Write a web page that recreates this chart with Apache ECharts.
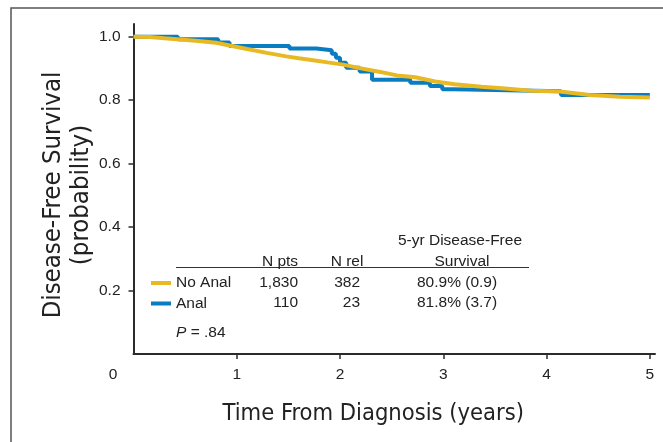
<!DOCTYPE html>
<html>
<head>
<meta charset="utf-8">
<script src="https://cdn.jsdelivr.net/npm/echarts@6/dist/echarts.min.js"></script>
<style>
html,body{margin:0;padding:0;background:#fff;}
#chart{width:663px;height:442px;}
</style>
</head>
<body>
<div id="chart"></div>
<script>
// ---- data ----
var seriesNames = ['No Anal', 'Anal'];
var noAnalTime = [0, 0.16, 0.3, 0.45, 0.6, 0.8, 0.93, 1.1, 1.29, 1.48, 1.6, 1.74, 1.88, 2.03, 2.19, 2.39, 2.55, 2.73, 2.92, 3.11, 3.37, 3.6, 3.85, 4.13, 4.42, 4.71, 5.0];
var noAnalSurv = [1.0, 0.999, 0.995, 0.991, 0.987, 0.981, 0.972, 0.961, 0.949, 0.938, 0.932, 0.926, 0.919, 0.912, 0.901, 0.889, 0.878, 0.872, 0.859, 0.850, 0.842, 0.837, 0.830, 0.827, 0.816, 0.811, 0.808];
var analTime = [0, 0.43, 0.82, 0.93, 1.51, 1.77, 1.92, 1.96, 2.0, 2.06, 2.19, 2.31, 2.68, 2.87, 2.99, 3.10, 4.14, 5.0];
var analSurv = [1.0, 0.992, 0.982, 0.971, 0.963, 0.957, 0.946, 0.934, 0.918, 0.902, 0.890, 0.864, 0.855, 0.845, 0.834, 0.828, 0.816, 0.816];
var xTickValues = [0, 1, 2, 3, 4, 5];
var yTickValues = [0.2, 0.4, 0.6, 0.8, 1.0];
var tableHeaders = ['N pts', 'N rel', '5-yr Disease-Free', 'Survival'];
var nPts = ['1,830', '110'];
var nRel = ['382', '23'];
var dfs5yr = ['80.9% (0.9)', '81.8% (3.7)'];
var pValueText = '= .84';

// ---- styles ----
var YELLOW = '#E8B923';
var BLUE = '#0A7DC2';
var AXIS = '#2b2b2b';
var TXT = '#222';
var FONT = "'Liberation Sans', Arial, sans-serif";
var NARROW = "'Liberation Sans Narrow', 'DejaVu Sans Condensed', 'Liberation Sans', sans-serif";

function pairs(t, s) { return t.map(function (v, i) { return [v, s[i]]; }); }

var chart = echarts.init(document.getElementById('chart'), null, {renderer: 'canvas'});

var tableFont = {fontFamily: FONT, fontSize: 15.5, fill: TXT};
function txt(x, y, s, align, extra) {
  var st = Object.assign({}, tableFont, {text: s, x: x, y: y, align: align || 'left', verticalAlign: 'middle'}, extra || {});
  return {type: 'text', style: st, z: 10};
}

var graphics = [
  // outer frame
  {type: 'polyline', shape: {points: [[11, 442], [11, 8], [663, 8]]}, style: {stroke: '#555', lineWidth: 1.5, fill: null}},
  // table headers
  txt(460, 240.5, tableHeaders[2], 'center'),
  txt(462, 261.5, tableHeaders[3], 'center'),
  txt(280, 261.5, tableHeaders[0], 'center'),
  txt(347, 261.5, tableHeaders[1], 'center'),
  {type: 'line', shape: {x1: 176, y1: 267.5, x2: 529, y2: 267.5}, style: {stroke: '#333', lineWidth: 1.2}},
  txt(176, 333, '{i|P} ' + pValueText, 'left', {rich: {i: {fontStyle: 'italic', fontFamily: FONT, fontSize: 15.5, fill: TXT}}})
];
var rowY = [282.5, 303];
for (var r = 0; r < 2; r++) {
  graphics.push(txt(298, rowY[r], nPts[r], 'right'));
  graphics.push(txt(360, rowY[r], nRel[r], 'right'));
  graphics.push(txt(417, rowY[r], dfs5yr[r], 'left'));
}

var option = {
  backgroundColor: '#fff',
  animation: false,
  grid: {left: 133.5, right: 8, top: 24, bottom: 88},
  legend: {
    data: seriesNames,
    orient: 'vertical',
    left: 146,
    top: 270,
    itemWidth: 20,
    itemHeight: 4,
    itemGap: 4.5,
    icon: 'rect',
    textStyle: {fontFamily: FONT, fontSize: 15.5, color: TXT, lineHeight: 16, padding: [0, 0, 0, 0]}
  },
  xAxis: {
    type: 'value',
    min: 0,
    max: 5.05,
    name: 'Time From Diagnosis (years)',
    nameLocation: 'middle',
    nameGap: 48,
    nameMoveOverlap: false,
    nameTextStyle: {fontFamily: NARROW, fontSize: 23.5, color: TXT, padding: [0, 42, 0, 0]},
    axisLine: {show: true, onZero: false, lineStyle: {color: AXIS, width: 2}},
    axisTick: {show: true, length: 5, customValues: [1, 2, 3, 4, 5], lineStyle: {color: AXIS, width: 1.5}},
    axisLabel: {
      customValues: xTickValues,
      margin: 13,
      fontFamily: FONT, fontSize: 15.5, color: TXT,
      formatter: function (v) { return v === 0 ? '{z|0}' : String(v); },
      rich: {z: {fontFamily: FONT, fontSize: 15.5, color: TXT, padding: [0, 41, 0, 0]}}
    },
    splitLine: {show: false}
  },
  yAxis: {
    type: 'value',
    min: 0,
    max: 1.04,
    name: 'Disease-Free Survival\n(probability)',
    nameLocation: 'middle',
    nameRotate: 90,
    nameGap: 38,
    nameMoveOverlap: false,
    nameTextStyle: {fontFamily: NARROW, fontSize: 25.5, color: TXT, lineHeight: 28, align: 'center', padding: [0, 12, 0, 0]},
    axisLine: {show: true, lineStyle: {color: AXIS, width: 2}},
    axisTick: {show: true, length: 5, customValues: yTickValues, lineStyle: {color: AXIS, width: 1.5}},
    axisLabel: {
      customValues: yTickValues,
      margin: 13,
      fontFamily: FONT, fontSize: 15.5, color: TXT,
      formatter: function (v) { return v.toFixed(1); }
    },
    splitLine: {show: false}
  },
  series: [
    {
      name: seriesNames[1],
      type: 'line',
      step: 'end',
      data: pairs(analTime, analSurv),
      showSymbol: false,
      lineStyle: {color: BLUE, width: 4},
      itemStyle: {color: BLUE},
      z: 2
    },
    {
      name: seriesNames[0],
      type: 'line',
      data: pairs(noAnalTime, noAnalSurv),
      showSymbol: false,
      lineStyle: {color: YELLOW, width: 4},
      itemStyle: {color: YELLOW},
      z: 3
    }
  ],
  graphic: graphics
};
chart.setOption(option);
</script>
</body>
</html>
